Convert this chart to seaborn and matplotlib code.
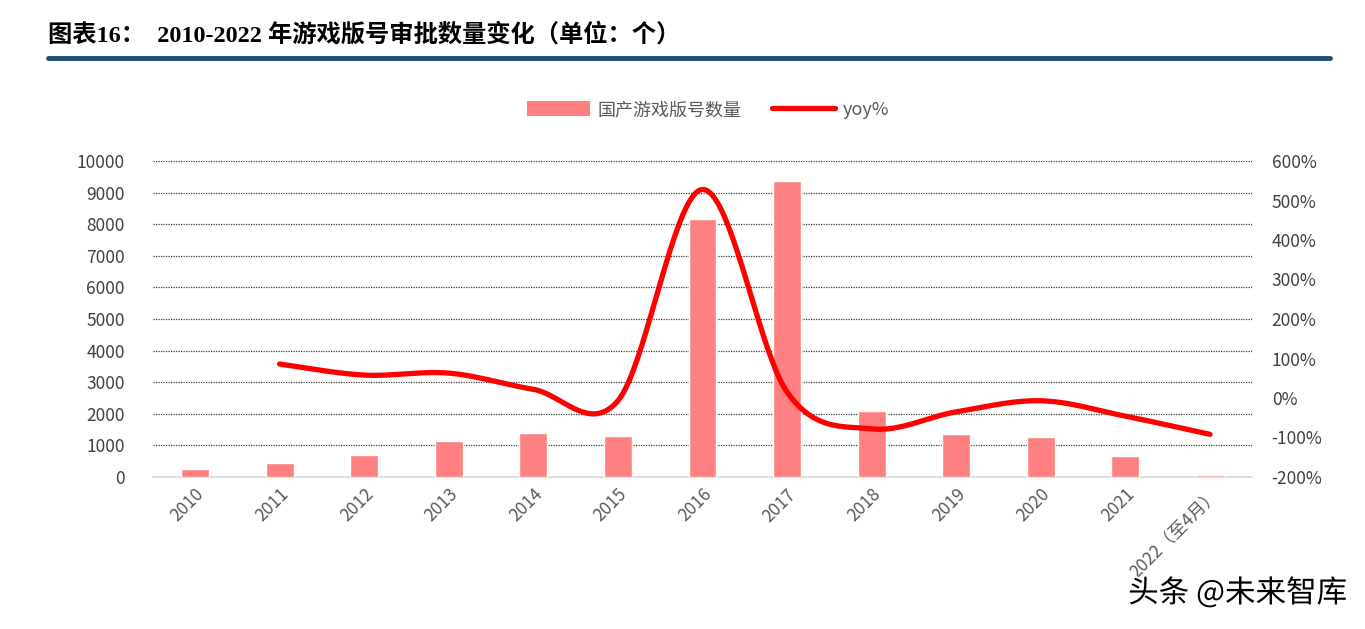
import numpy as np
import pandas as pd
import matplotlib
matplotlib.use("Agg")
import matplotlib.pyplot as plt
import matplotlib.patheffects as pe
from matplotlib.ticker import FuncFormatter
from matplotlib.patches import Patch
from matplotlib.lines import Line2D
import seaborn as sns

years = ["2010", "2011", "2012", "2013", "2014", "2015", "2016", "2017",
         "2018", "2019", "2020", "2021", "2022（至4月）"]
counts = [250, 440, 700, 1140, 1400, 1300, 8160, 9370, 2100, 1370, 1270, 680, 60]
yoy = [np.nan, 86, 58, 63, 22, -7, 528, 15, -78, -35, -7, -46, -92]

sns.set_theme(style="white")
plt.rcParams['font.family'] = ['Noto Sans CJK SC', 'DejaVu Sans']

W, H = 1365, 629
fig = plt.figure(figsize=(W / 100, H / 100), dpi=100)
ax = fig.add_axes([152.7 / W, 1 - 477 / H, (1252.3 - 152.7) / W, (477 - 161) / H])

df = pd.DataFrame({"year": years, "count": counts})
sns.barplot(data=df, x="year", y="count", ax=ax, color="#FF8080", width=0.33,
            saturation=1, zorder=3)
ax.set_xlim(-0.5, len(years) - 0.5)
ax.set_ylim(0, 10000)
ax.set_yticks(range(0, 10001, 1000))
ax.set_xlabel("")
ax.set_ylabel("")
ax.grid(axis="y", linestyle=(0, (1, 1)), color="#404040", linewidth=0.9, zorder=0)
for s in ["top", "left", "right"]:
    ax.spines[s].set_visible(False)
ax.spines["bottom"].set_color("#D9D9D9")
ax.spines["bottom"].set_linewidth(1.2)
ax.tick_params(axis="y", length=0, pad=20, labelsize=12.5, labelcolor="#404040")
ax.tick_params(axis="x", length=0, pad=6, labelsize=12.5, labelcolor="#595959")
for lbl in ax.get_xticklabels():
    lbl.set_rotation(45)
    lbl.set_ha("right")
    lbl.set_va("top")
    lbl.set_rotation_mode("anchor")

ax2 = ax.twinx()
ax2.set_ylim(-2.0, 6.0)
ax2.set_yticks(np.arange(-2.0, 6.01, 1.0))
ax2.yaxis.set_major_formatter(FuncFormatter(lambda v, p: f"{v*100:.0f}%"))
ax2.tick_params(axis="y", length=0, pad=14, labelsize=12.5, labelcolor="#404040")
for s in ax2.spines.values():
    s.set_visible(False)

# Smoothed line (Catmull-Rom style, as in spreadsheet smoothed lines)
xs = np.array([i for i, v in enumerate(yoy) if not np.isnan(v)], dtype=float)
ys = np.array([v / 100 for v in yoy if not np.isnan(v)], dtype=float)
px = np.concatenate([[xs[0]], xs, [xs[-1]]])
py = np.concatenate([[ys[0]], ys, [ys[-1]]])
cx, cy = [], []
t = np.linspace(0, 1, 40)
for i in range(1, len(px) - 2):
    p0 = np.array([px[i - 1], py[i - 1]]); p1 = np.array([px[i], py[i]])
    p2 = np.array([px[i + 1], py[i + 1]]); p3 = np.array([px[i + 2], py[i + 2]])
    c1 = p1 + (p2 - p0) / 6
    c2 = p2 - (p3 - p1) / 6
    seg = ((1 - t)[:, None] ** 3 * p1 + 3 * ((1 - t) ** 2 * t)[:, None] * c1
           + 3 * ((1 - t) * t ** 2)[:, None] * c2 + (t ** 3)[:, None] * p2)
    cx.extend(seg[:, 0]); cy.extend(seg[:, 1])
ax2.plot(cx, cy, color="#FF0000", linewidth=3.8, solid_capstyle="round", zorder=5)

handles = [Patch(facecolor="#FF8080", edgecolor="none"),
           Line2D([], [], color="#FF0000", linewidth=3.8, solid_capstyle="round")]
fig.legend(handles, ["国产游戏版号数量", "yoy%"], loc="center",
           bbox_to_anchor=(708 / W, 1 - 110 / H),
           ncol=2, frameon=False, fontsize=13, labelcolor="#595959",
           handlelength=3.5, handleheight=0.9, columnspacing=1.7, handletextpad=0.4)

# Title and rule
fig.text(48 / W, 1 - 35 / H, "图表16：  2010-2022 年游戏版号审批数量变化（单位：个）",
         fontsize=17.5, fontweight="bold", color="black", va="center", ha="left",
         family=['Liberation Serif', 'Noto Sans CJK SC'])
fig.add_artist(plt.Line2D([48 / W, 1330 / W], [1 - 57.5 / H, 1 - 57.5 / H],
                          color="#1F4E79", linewidth=3.5, transform=fig.transFigure))

# Watermark
fig.text(1347 / W, 1 - 593 / H, "头条 @未来智库", fontsize=22, color="black",
         ha="right", va="center",
         path_effects=[pe.withStroke(linewidth=3, foreground="white")])

fig.savefig("out.png", dpi=100)
